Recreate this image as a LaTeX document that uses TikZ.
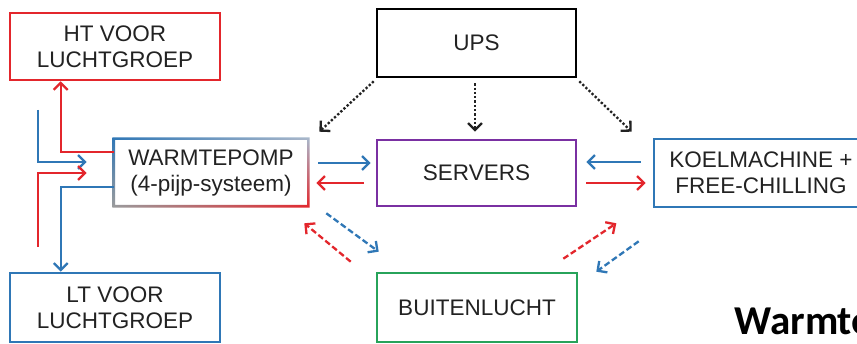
\documentclass[tikz,border=0pt]{standalone}
\usepackage{fontspec}
\setmainfont{Liberation Sans}
\newfontfamily\titlefont{Carlito}
\usetikzlibrary{arrows.meta,shadings}

\definecolor{pipered}{HTML}{E3262C}
\definecolor{pipeblue}{HTML}{2F77B6}
\definecolor{srvpurple}{HTML}{7A30A2}
\definecolor{airgreen}{HTML}{27A35A}
\definecolor{txtgray}{HTML}{222222}
\definecolor{framegray}{HTML}{9C9C9C}
\definecolor{framelight}{HTML}{A9B9CC}

\tikzset{
  unitbox/.style={draw, line width=2.6pt, inner sep=0pt, align=center,
    text=txtgray, font=\fontsize{22.5}{26}\selectfont},
  tipv/.style={-{Straight Barb[length=7pt,width=14pt,line width=2.3pt]}},
  pipe/.style={tipv, line width=2.3pt},
  dotpipe/.style={tipv, line width=2.3pt, dotted, txtgray},
  dashpipe/.style={tipv, line width=2.3pt, dash pattern=on 6pt off 3pt},
}

\begin{document}
\begin{tikzpicture}[x=1pt, y=-1pt]
\useasboundingbox (0,0) rectangle (857,344);
\fill[white] (0,0) rectangle (857,344);

% units
\node[unitbox, draw=pipered, minimum width=210pt, minimum height=67pt] (ht) at (115,46.5) {HT VOOR\\LUCHTGROEP};
\node[unitbox, draw=pipeblue, minimum width=210pt, minimum height=69pt] (lt) at (115,307.5) {LT VOOR\\LUCHTGROEP};
\node[unitbox, draw=none, minimum width=192pt, minimum height=65pt] (wp) at (211,172.5) {WARMTEPOMP\\(4-pijp-systeem)};
\node[unitbox, draw=black, minimum width=199pt, minimum height=68pt] (ups) at (476.5,43) {UPS};
\node[unitbox, draw=srvpurple, minimum width=199pt, minimum height=66pt] (srv) at (476.5,173) {SERVERS};
\node[unitbox, draw=airgreen, minimum width=200pt, minimum height=69pt] (air) at (477,307.5) {BUITENLUCHT};
\node[unitbox, draw=pipeblue, minimum width=214pt, minimum height=68pt] (koel) at (761,173) {KOELMACHINE +\\FREE-CHILLING};

% heat pump frame: blue at the top left fading to red at the bottom right
\shade[even odd rule, upper left=pipeblue, upper right=framelight,
       lower left=framegray, lower right=pipered]
  ([shift={(-1.3pt,1.3pt)}]wp.north west) rectangle ([shift={(1.3pt,-1.3pt)}]wp.south east)
  ([shift={(1.3pt,-1.3pt)}]wp.north west) rectangle ([shift={(-1.3pt,1.3pt)}]wp.south east);

\node[anchor=base west, font=\titlefont\bfseries\fontsize{41}{45}\selectfont, text=black] (title) at (731,335) {Warmte};

% UPS feeds
\draw[dotpipe] ([shift={(-2pt,-3pt)}]ups.south west) -- ([shift={(11pt,7pt)}]wp.north east);
\draw[dotpipe] ([shift={(-1.5pt,-5pt)}]ups.south) -- ([shift={(-1.5pt,7pt)}]srv.north);
\draw[dotpipe] ([shift={(2pt,-3pt)}]ups.south east) -- ([shift={(-21pt,6pt)}]koel.north west);

% heat pump <-> servers
\draw[pipe, pipeblue] ([shift={(10pt,9.5pt)}]wp.east) -- ([shift={(-5pt,10pt)}]srv.west);
\draw[pipe, pipered] ([shift={(-12pt,-10pt)}]srv.west) -- ([shift={(8pt,-10.5pt)}]wp.east);

% chiller <-> servers
\draw[pipe, pipeblue] ([shift={(-12pt,11pt)}]koel.west) -- ([shift={(9pt,11pt)}]srv.east);
\draw[pipe, pipered] ([shift={(9pt,-10pt)}]srv.east) -- ([shift={(-7pt,-10pt)}]koel.west);

% outside air exchange
\draw[dashpipe, pipeblue] ([shift={(18pt,-7pt)}]wp.south east) -- ([shift={(3pt,20pt)}]air.north west);
\draw[dashpipe, pipered] ([shift={(-25pt,10pt)}]air.north west) -- ([shift={(-4pt,-17pt)}]wp.south east);
\draw[dashpipe, pipered] ([shift={(-15pt,13pt)}]air.north east) -- ([shift={(39pt,-16pt)}]srv.south east);
\draw[dashpipe, pipeblue] ([shift={(-14pt,-33pt)}]koel.south west) -- ([shift={(18pt,0pt)}]air.north east);

% air handling unit circuits
\coordinate (retblue) at (38,110);
\coordinate (retred) at (38,247);
\draw[pipe, pipered] ([yshift=20.5pt]wp.west) -| ([xshift=52pt]ht.south west);
\draw[pipe, pipeblue] (retblue) |- ([shift={(-27pt,10.5pt)}]wp.west);
\draw[pipe, pipered] (retred) |- ([shift={(-27pt,-0.5pt)}]wp.west);
\draw[pipe, pipeblue] ([yshift=-14.5pt]wp.west) -| ([xshift=52pt]lt.north west);
\end{tikzpicture}
\end{document}
